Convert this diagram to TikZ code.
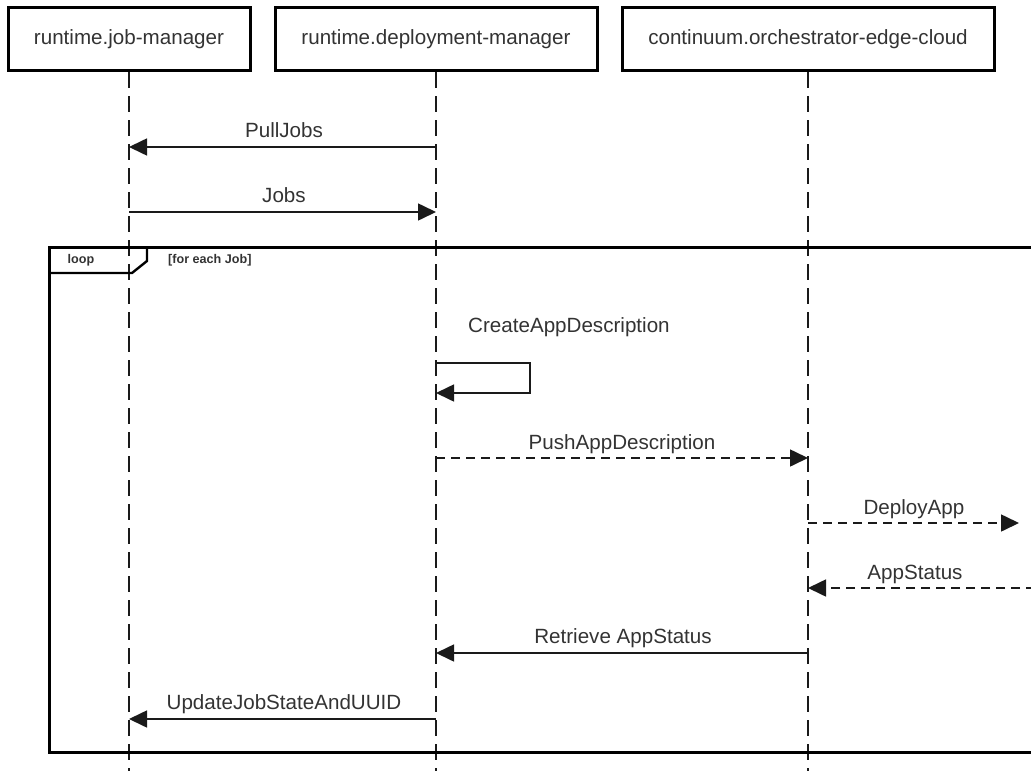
\documentclass[tikz,border=0pt]{standalone}
\usepackage{fontspec}
\setmainfont{Liberation Sans}
\usetikzlibrary{arrows.meta}
\definecolor{ink}{HTML}{1A1A1A}
\definecolor{txt}{HTML}{333333}
\begin{document}
\begin{tikzpicture}[x=1pt,y=-1pt,
  actor/.style={draw=black,line width=3pt,minimum height=63pt,inner sep=0pt,
    font=\fontsize{20.6}{24}\selectfont,text=txt},
  lifeline/.style={draw=ink,line width=1.6pt,dash pattern=on 16pt off 8pt},
  msg/.style={draw=ink,line width=1.6pt,-{Triangle[length=18pt,width=17pt]}},
  reply/.style={msg,dash pattern=on 9pt off 6pt},
  lbl/.style={font=\fontsize{20.6}{24}\selectfont,text=txt,inner sep=0pt,anchor=base},
  frame/.style={draw=black,line width=3pt},
  framelbl/.style={font=\fontsize{12.6}{15}\selectfont\bfseries,text=txt,inner sep=0pt}]
\useasboundingbox (0,0) rectangle (1031,771);
\clip (0,0) rectangle (1031,771);

% participants
\node[actor,minimum width=242pt] (jm) at (129,39) {runtime.job-manager};
\node[actor,minimum width=322pt] (dm) at (436,39) {runtime.deployment-manager};
\node[actor,minimum width=372pt] (oc) at (808,39) {continuum.orchestrator-edge-cloud};

% lifelines
\draw[lifeline] (jm.south) -- (jm.south |- 0,771);
\draw[lifeline] (dm.south) -- (dm.south |- 0,771);
\draw[lifeline] (oc.south) -- (oc.south |- 0,771);

% messages before the loop
\draw[msg] (dm.south |- 0,147) -- (jm.south |- 0,147);
\node[lbl] (lPull) at (284,137) {PullJobs};
\draw[msg] (jm.south |- 0,212) -- (dm.south |- 0,212);
\node[lbl] (lJobs) at (284,202) {Jobs};

% loop fragment
\draw[frame] (1040,247) -- (49,247) -- (49,752) -- (1040,752);
\draw[frame,line width=2.4pt] (49,273) -- (132,273) -- (147,261) -- (147,247);
\node[framelbl] (loopname) at (81,260) {loop};
\node[framelbl,anchor=west] (guard) at (168,260) {[for each Job]};

% messages inside the loop
\node[lbl,anchor=base west] (lCreate) at (468,332) {CreateAppDescription};
\coordinate (selfA) at (530,363);
\coordinate (selfB) at (530,393);
\draw[msg] (dm.south |- 0,363) -- (selfA) -- (selfB) -- (dm.south |- 0,393);

\draw[reply] (dm.south |- 0,458) -- (oc.south |- 0,458);
\node[lbl] (lPush) at (622,449) {PushAppDescription};

\coordinate (deployEnd) at (1019,523);
\draw[reply] (oc.south |- 0,523) -- (deployEnd);
\node[lbl] (lDeploy) at (914,514) {DeployApp};

\coordinate (statusStart) at (1035,588);
\draw[reply] (statusStart) -- (oc.south |- 0,588);
\node[lbl] (lStatus) at (915,579) {AppStatus};

\draw[msg] (oc.south |- 0,653) -- (dm.south |- 0,653);
\node[lbl] (lRetr) at (623,643) {Retrieve AppStatus};

\draw[msg] (dm.south |- 0,719) -- (jm.south |- 0,719);
\node[lbl] (lUpd) at (284,709) {UpdateJobStateAndUUID};
\end{tikzpicture}
\end{document}
